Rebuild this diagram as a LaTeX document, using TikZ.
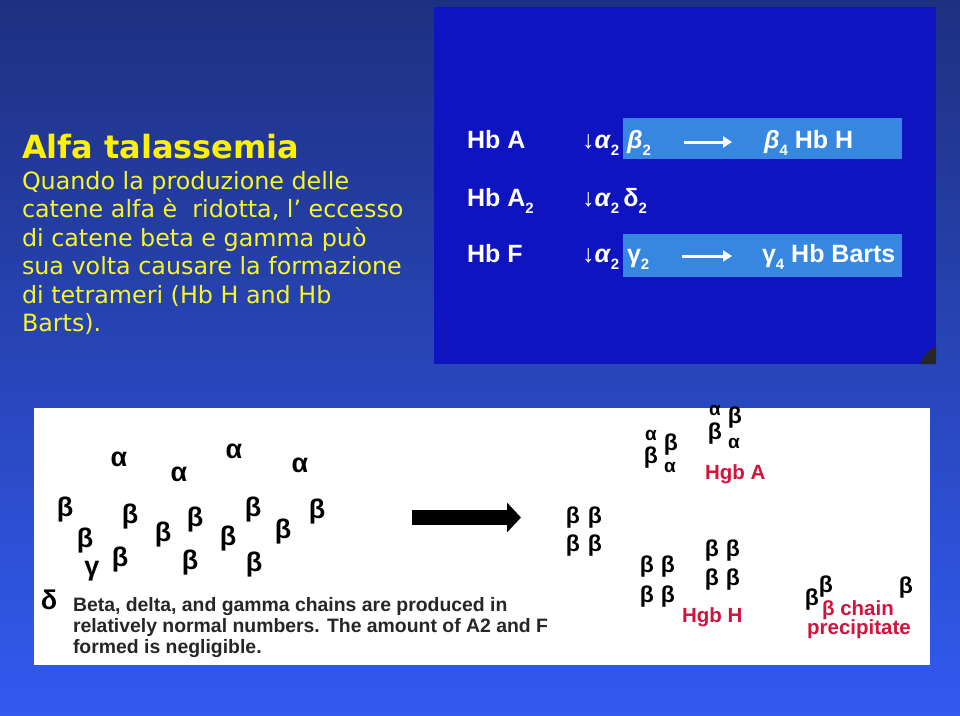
\documentclass[tikz,border=0pt]{standalone}
\usepackage{fontspec}
\setmainfont{DejaVu Sans}
\newfontfamily\hbfont{Liberation Sans}
\usetikzlibrary{arrows.meta}
\definecolor{bgtop}{RGB}{30,48,128}
\definecolor{bgbot}{RGB}{50,90,240}
\definecolor{ylw}{RGB}{245,245,40}
\definecolor{pnl}{RGB}{14,20,192}
\definecolor{bar}{RGB}{55,135,225}
\definecolor{hgbred}{RGB}{208,20,60}
\newcommand{\lowsub}[1]{\raisebox{-0.3em}{\fontsize{15}{15}\selectfont #1}}

\begin{document}
\begin{tikzpicture}[x=1pt, y=-1pt,
    every node/.style={inner sep=0pt, outer sep=0pt},
    slide/.style={anchor=base west, text=ylw, font=\fontsize{23.8}{28}\selectfont},
    hb/.style={anchor=base west, text=white, font=\hbfont\bfseries\fontsize{25}{30}\selectfont},
    chain/.style={font=\hbfont\bfseries\fontsize{27}{27}\selectfont},
    smallchain/.style={font=\hbfont\bfseries\fontsize{23}{23}\selectfont},
    tinychain/.style={font=\hbfont\bfseries\fontsize{19}{19}\selectfont},
    note/.style={anchor=base west, text=black!85, font=\hbfont\bfseries\fontsize{19.4}{21}\selectfont},
    hgb/.style={text=hgbred, font=\hbfont\bfseries\fontsize{20.5}{22}\selectfont},
    thinarrow/.style={white, line width=3pt, -{Triangle[length=9pt, width=11pt]}}]

      \shade[top color=bgtop, bottom color=bgbot] (0,0) rectangle (960,715);
      \useasboundingbox (0,0) rectangle (960,715);

      % left text
      \node[slide, text=yellow, font=\bfseries\fontsize{32}{38}\selectfont] (title) at (22,158) {Alfa talassemia};
      \node[slide] (l1) at (22,189) {Quando la produzione delle};
      \node[slide] (l2) at (22,217) {catene alfa è~ ridotta, l’ eccesso};
      \node[slide] (l3) at (22,246) {di catene beta e gamma può};
      \node[slide] (l4) at (22,274) {sua volta causare la formazione};
      \node[slide] (l5) at (22,303) {di tetrameri (Hb H and Hb};
      \node[slide] (l6) at (22,331) {Barts).};

      % upper panel
      \fill[pnl] (434,7) rectangle (936,364);
      \fill[black!85] (936,346) -- (936,364) -- (920,364) to[bend left=20] cycle;
      \fill[bar] (623,118) rectangle (902,159);
      \fill[bar] (623,234) rectangle (902,277);

      \node[hb] (hbA) at (467,148) {Hb A};
      \node[hb] (hbA2) at (467,206) {Hb A\lowsub{2}};
      \node[hb] (hbF) at (467,262) {Hb F};

      \node[hb] (dnA) at (582,148) {↓\textit{α}\lowsub{2}};
      \node[hb] (dnA2) at (582,206) {↓\textit{α}\lowsub{2}\,δ\lowsub{2}};
      \node[hb] (dnF) at (582,262) {↓\textit{α}\lowsub{2}};

      \node[hb] (beta2) at (627,148) {\textit{β}\lowsub{2}};
      \node[hb] (gamma2) at (627,262) {γ\lowsub{2}};
      \node[hb] (hbH) at (764,148) {\textit{β}\lowsub{4} Hb H};
      \node[hb] (hbB) at (762,262) {γ\lowsub{4} Hb Barts};

      \draw[thinarrow, shorten <=33pt, shorten >=32pt]
        ([yshift=6pt]beta2.base east) -- ([yshift=6pt]hbH.base west);
      \draw[thinarrow, shorten <=33pt, shorten >=30pt]
        ([yshift=6pt]gamma2.base east) -- ([yshift=6pt]hbB.base west);

      % lower panel
      \fill[white] (34,408) rectangle (930,665);

      \foreach \x/\y [count=\i] in {119/459, 179/474, 234/451, 300/465}
        \node[chain] (al\i) at (\x,\y) {α};
      \foreach \x/\y [count=\i] in {65/510, 130/517, 85/541, 163/535, 195/520, 253/510,
                                    228/539, 283/532, 317/512, 120/560, 190/563, 254/565}
        \node[chain] (be\i) at (\x,\y) {β};
      \node[chain] (ga) at (92,571) {γ};
      \node[chain] (de) at (49,600) {δ};

      \node[note] (n1) at (73,611) {Beta, delta, and gamma chains are produced in};
      \node[note] (n2) at (73,632) {relatively normal numbers. The amount of A2 and F};
      \node[note] (n3) at (73,653) {formed is negligible.};

      \coordinate (arrS) at (412,517.5);
      \coordinate (arrE) at (521,517.5);
      \draw[line width=15pt, -{Triangle[length=14pt, width=29pt]}] (arrS) -- (arrE);

      % free beta chains
      \foreach \x/\y [count=\i] in {573/518, 595/518, 573/546, 595/546}
        \node[smallchain] (fb\i) at (\x,\y) {β};

      % Hgb A
      \node[tinychain] (ha1) at (651,435) {α};
      \node[smallchain] (hb1) at (671,445) {β};
      \node[smallchain] (hb2) at (651,458) {β};
      \node[tinychain] (ha2) at (670,467) {α};
      \node[tinychain] (ha3) at (715,410) {α};
      \node[smallchain] (hb3) at (735,418) {β};
      \node[smallchain] (hb4) at (715,434) {β};
      \node[tinychain] (ha4) at (734,443) {α};
      \node[hgb, anchor=base west] (hgbA) at (705,479) {Hgb A};

      % Hgb H
      \foreach \x/\y [count=\i] in {647/567, 668/567, 647/597, 668/597,
                                    712/551, 733/551, 712/580, 733/580}
        \node[smallchain] (hh\i) at (\x,\y) {β};
      \node[hgb, anchor=base west] (hgbH) at (682,622) {Hgb H};

      % precipitate
      \node[smallchain] (pb1) at (812,600) {β};
      \node[smallchain] (pb2) at (826,587) {β};
      \node[smallchain] (pb3) at (906,588) {β};
      \node[hgb, anchor=base] (prc1) at (858,615) {β chain};
      \node[hgb, anchor=base] (prc2) at (859,634) {precipitate};

    \end{tikzpicture}
\end{document}
